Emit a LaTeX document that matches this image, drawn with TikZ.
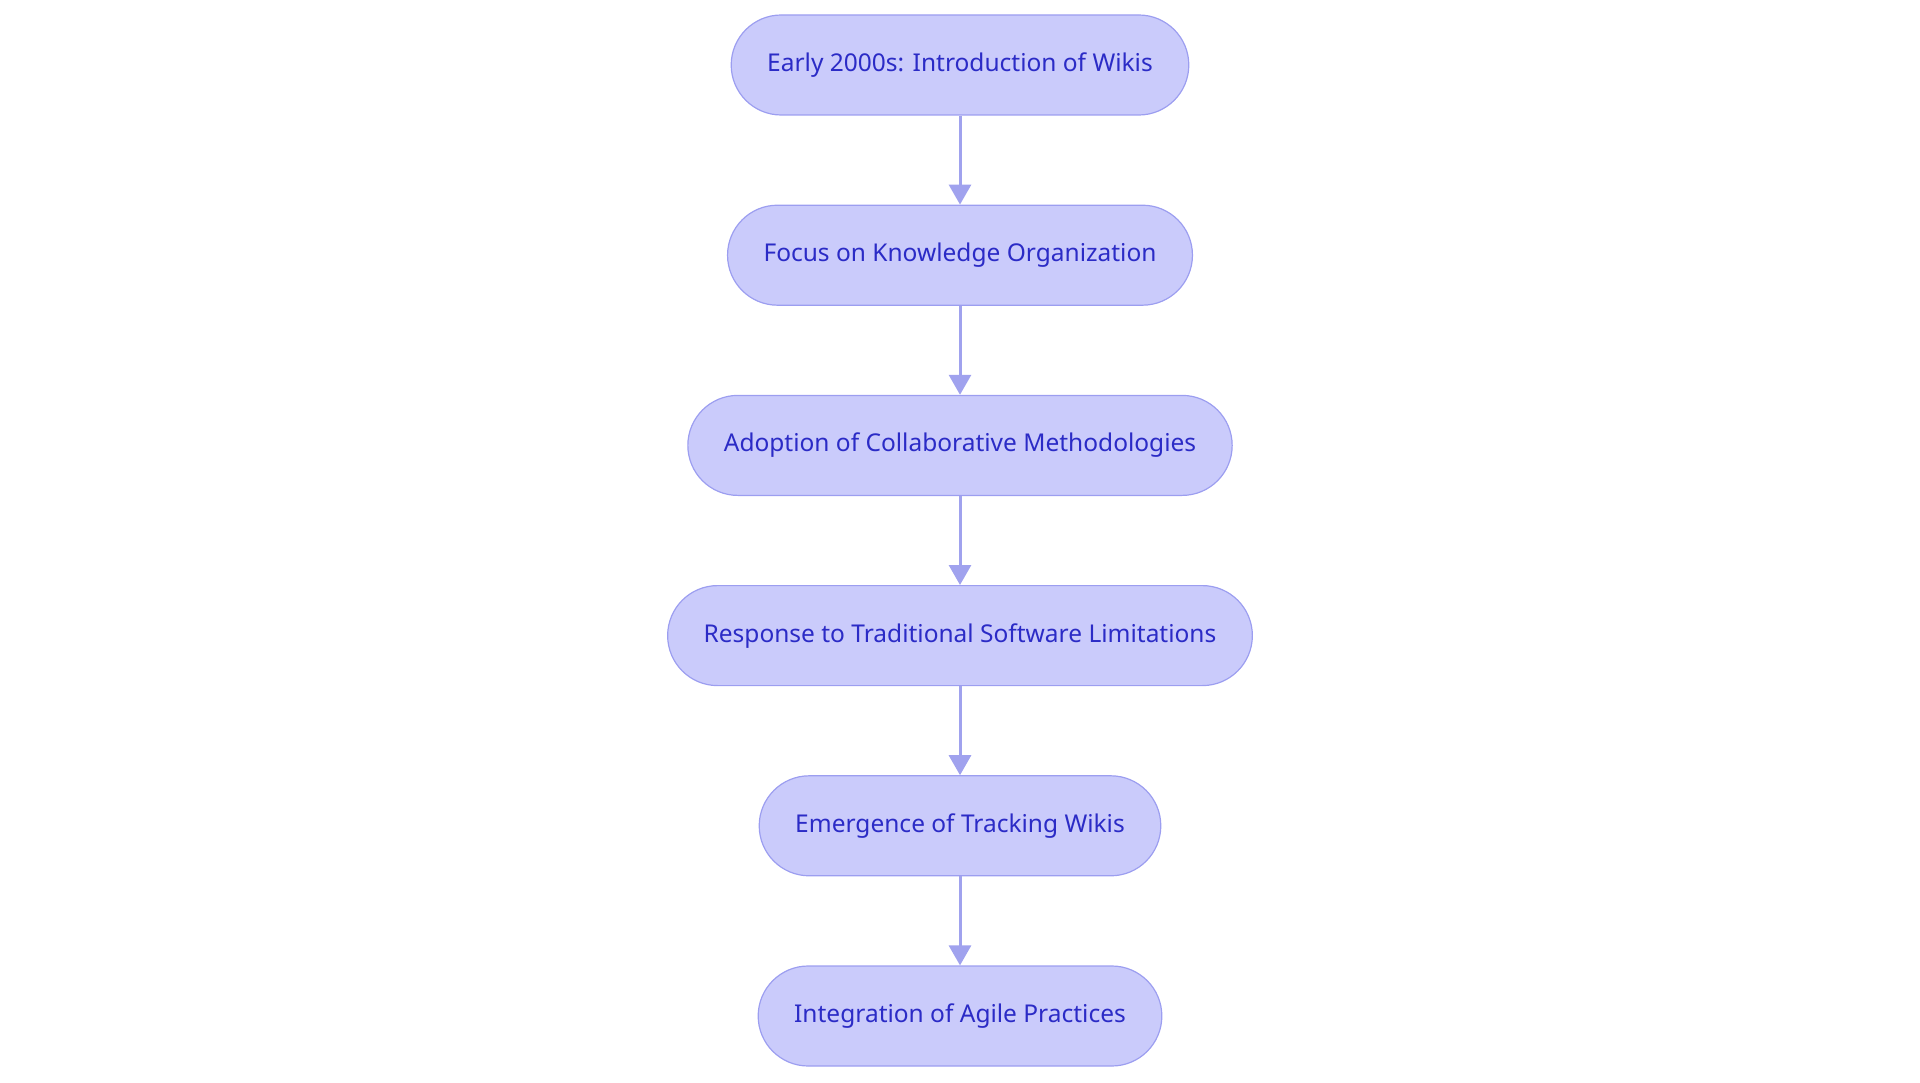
\documentclass[tikz,border=0pt]{standalone}
\usepackage{fontspec}
\setmainfont{Noto Sans}
\usepackage{tikz}
\usepackage{xcolor}
\usetikzlibrary{arrows.meta, positioning}

\definecolor{stepfill}{HTML}{CACBFB}
\definecolor{stepline}{HTML}{9C9EF0}
\definecolor{steptext}{HTML}{2B2BC6}
\definecolor{flowline}{HTML}{A0A2EE}

\begin{document}
\begin{tikzpicture}[x=1pt, y=1pt,
    stage/.style={rectangle, rounded corners=50pt, draw=stepline, fill=stepfill,
        line width=1.2pt, minimum height=100pt, inner xsep=36pt,
        text=steptext, font=\fontsize{24.5}{29}\selectfont},
    flow/.style={-{Triangle[width=22pt, length=20pt]}, draw=flowline, line width=3pt}]
\useasboundingbox (0,0) rectangle (1920,-1083);

% Timeline stages
\node[stage] (wikis) at (960,-65) {Early 2000s: Introduction of Wikis};
\node[stage, below=89pt of wikis] (knowledge) {Focus on Knowledge Organization};
\node[stage, below=89pt of knowledge] (collab) {Adoption of Collaborative Methodologies};
\node[stage, below=89pt of collab] (response) {Response to Traditional Software Limitations};
\node[stage, below=89pt of response] (tracking) {Emergence of Tracking Wikis};
\node[stage, below=89pt of tracking] (agile) {Integration of Agile Practices};

% Connectors
\draw[flow] (wikis) -- (knowledge);
\draw[flow] (knowledge) -- (collab);
\draw[flow] (collab) -- (response);
\draw[flow] (response) -- (tracking);
\draw[flow] (tracking) -- (agile);
\end{tikzpicture}
\end{document}
